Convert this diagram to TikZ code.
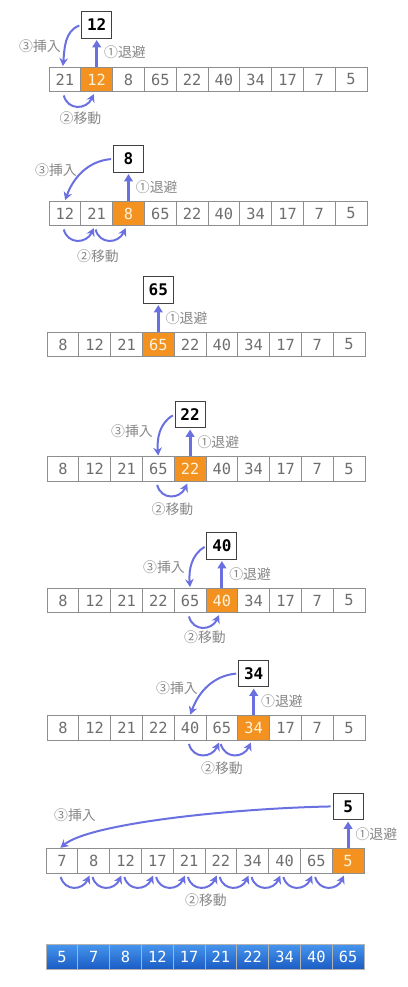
\documentclass[tikz,border=0pt]{standalone}
\usepackage{fontspec}
\usepackage{tikz}
\usetikzlibrary{positioning,arrows.meta}

\newfontfamily\numfont{DejaVu Sans Mono}
\newfontfamily\jpfont{Noto Sans CJK JP}

\definecolor{arr}{HTML}{6A70E0}
\definecolor{hotfill}{HTML}{F39220}
\definecolor{hottext}{HTML}{FFF4DC}
\definecolor{txtgray}{HTML}{6E6E6E}
\definecolor{lblgray}{HTML}{888888}
\definecolor{edgegray}{HTML}{8E8E8E}
\definecolor{blueup}{HTML}{4594EC}
\definecolor{bluedn}{HTML}{1A5CC4}

\tikzset{
  cell/.style={draw=edgegray, line width=0.75pt, fill=white, minimum width=23.85pt,
    minimum height=18.4pt, inner sep=0pt, text=txtgray,
    font=\numfont\fontsize{11.5}{12}\selectfont},
  hot/.style={cell, fill=hotfill, text=hottext},
  done/.style={cell, draw=gray!60, top color=blueup, bottom color=bluedn, text=white},
  tmp/.style={draw=black!75, line width=0.75pt, fill=white, minimum width=22.5pt,
    minimum height=20pt, inner sep=0pt, font=\numfont\bfseries\fontsize{12}{12}\selectfont},
  lbl/.style={text=lblgray, inner sep=1pt, font=\jpfont\fontsize{10.4}{12}\selectfont},
  outarr/.style={-{Triangle[length=5.5pt,width=6.5pt]}, line width=2.2pt, draw=arr, shorten >=1pt},
  movarr/.style={-{Stealth[length=6pt,width=6.5pt]}, line width=1.5pt, draw=arr,
    shorten <=1.5pt, shorten >=0.5pt},
  hop/.style={movarr, out=-75, in=-115, looseness=1.55, shorten <=2.5pt, shorten >=1.5pt},
  node distance=21pt
}

\begin{document}
\begin{tikzpicture}[x=0.75pt, y=0.75pt]
\useasboundingbox (0,0) rectangle (407,-987);

% pass 1 : 12
\foreach \v/\s [count=\i] in {21/cell,12/hot,8/cell,65/cell,22/cell,40/cell,34/cell,17/cell,7/cell,5/cell}
  \node[\s] (a\i) at (49+31.8*\i-15.9,-79.5) {\v};
\node[tmp, above=of a2] (ta) {12};
\draw[outarr] (a2.north) -- node[lbl, right=3.5pt] (ka) {①退避} (ta.south);
\draw[movarr] (ta.west) to[out=200, in=85] ([xshift=-1.5pt]a1.north);
\draw[hop] ([xshift=-1.5pt]a1.south) to ([xshift=-1.5pt]a2.south);
\node[lbl] (ia) at (40,-46) {③挿入};
\node[lbl] (ma) at (80.5,-118) {②移動};

% pass 2 : 8
\foreach \v/\s [count=\i] in {12/cell,21/cell,8/hot,65/cell,22/cell,40/cell,34/cell,17/cell,7/cell,5/cell}
  \node[\s] (b\i) at (49+31.8*\i-15.9,-213.5) {\v};
\node[tmp, above=of b3] (tb) {8};
\draw[outarr] (b3.north) -- node[lbl, right=3.5pt] (kb) {①退避} (tb.south);
\draw[movarr] (tb.west) to[out=185, in=70] (b1.north);
\draw[hop] ([xshift=-1.5pt]b1.south) to ([xshift=-1.5pt]b2.south);
\draw[hop] ([xshift=-1.5pt]b2.south) to ([xshift=-1.5pt]b3.south);
\node[lbl] (ib) at (56,-170) {③挿入};
\node[lbl] (mb) at (98,-256) {②移動};

% pass 3 : 65
\foreach \v/\s [count=\i] in {8/cell,12/cell,21/cell,65/hot,22/cell,40/cell,34/cell,17/cell,7/cell,5/cell}
  \node[\s] (c\i) at (47+31.8*\i-15.9,-344.5) {\v};
\node[tmp, above=of c4] (tc) {65};
\draw[outarr] (c4.north) -- node[lbl, right=3.5pt] (kc) {①退避} (tc.south);

% pass 4 : 22
\foreach \v/\s [count=\i] in {8/cell,12/cell,21/cell,65/cell,22/hot,40/cell,34/cell,17/cell,7/cell,5/cell}
  \node[\s] (d\i) at (47+31.8*\i-15.9,-469) {\v};
\node[tmp, above=of d5] (td) {22};
\draw[outarr] (d5.north) -- node[lbl, right=3.5pt] (kd) {①退避} (td.south);
\draw[movarr] (td.west) to[out=210, in=95] (d4.north);
\draw[hop] ([xshift=-1.5pt]d4.south) to ([xshift=-1.5pt]d5.south);
\node[lbl] (id) at (132,-431) {③挿入};
\node[lbl] (md) at (172.5,-509) {②移動};

% pass 5 : 40
\foreach \v/\s [count=\i] in {8/cell,12/cell,21/cell,22/cell,65/cell,40/hot,34/cell,17/cell,7/cell,5/cell}
  \node[\s] (e\i) at (47+31.8*\i-15.9,-600.5) {\v};
\node[tmp, above=of e6] (te) {40};
\draw[outarr] (e6.north) -- node[lbl, right=3.5pt] (ke) {①退避} (te.south);
\draw[movarr] (te.west) to[out=210, in=95] (e5.north);
\draw[hop] ([xshift=-1.5pt]e5.south) to ([xshift=-1.5pt]e6.south);
\node[lbl] (ie) at (164,-567) {③挿入};
\node[lbl] (me) at (205,-637) {②移動};

% pass 6 : 34
\foreach \v/\s [count=\i] in {8/cell,12/cell,21/cell,22/cell,40/cell,65/cell,34/hot,17/cell,7/cell,5/cell}
  \node[\s] (f\i) at (47+31.8*\i-15.9,-728) {\v};
\node[tmp, above=of f7] (tf) {34};
\draw[outarr] (f7.north) -- node[lbl, right=3.5pt] (kf) {①退避} (tf.south);
\draw[movarr] (tf.west) to[out=185, in=70] (f5.north);
\draw[hop] ([xshift=-1.5pt]f5.south) to ([xshift=-1.5pt]f6.south);
\draw[hop] ([xshift=-1.5pt]f6.south) to ([xshift=-1.5pt]f7.south);
\node[lbl] (if) at (177,-688) {③挿入};
\node[lbl] (mf) at (222,-768) {②移動};

% pass 7 : 5
\foreach \v/\s [count=\i] in {7/cell,8/cell,12/cell,17/cell,21/cell,22/cell,34/cell,40/cell,65/cell,5/hot}
  \node[\s] (g\i) at (46+31.8*\i-15.9,-861) {\v};
\node[tmp, above=of g10] (tg) {5};
\draw[outarr] (g10.north) -- node[lbl, right=3.5pt] (kg) {①退避} (tg.south);
\draw[movarr] (tg.west) .. controls +(-100,-2) and +(30,25) .. ([xshift=-1.5pt]g1.north);
\foreach \i/\j in {1/2,2/3,3/4,4/5,5/6,6/7,7/8,8/9,9/10}
  \draw[hop] ([xshift=-1.5pt]g\i.south) to ([xshift=-2.5pt]g\j.south);
\node[lbl] (ig) at (75,-815) {③挿入};
\node[lbl] (mg) at (206,-900) {②移動};

% sorted
\foreach \v [count=\i] in {5,7,8,12,17,21,22,34,40,65}
  \node[done] (h\i) at (46+31.8*\i-15.9,-957) {\v};
\end{tikzpicture}
\end{document}
